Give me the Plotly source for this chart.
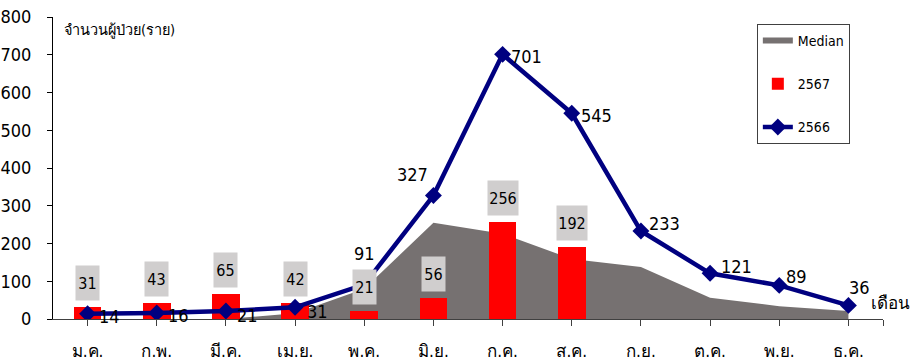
import plotly.graph_objects as go

# Months (Thai abbreviations)
months = ["ม.ค.", "ก.พ.", "มี.ค.", "เม.ย.", "พ.ค.", "มิ.ย.",
          "ก.ค.", "ส.ค.", "ก.ย.", "ต.ค.", "พ.ย.", "ธ.ค."]

# Median of previous years
median_vals = [0, 0, 0, 15, 80, 255, 226, 159, 138, 56, 34, 21]

# Cases in 2567 (reported months only)
cases_2567 = [31, 43, 65, 42, 21, 56, 256, 192]

# Cases in 2566
cases_2566 = [14, 16, 21, 31, 91, 327, 701, 545, 233, 121, 89, 36]

y_ticks = [0, 100, 200, 300, 400, 500, 600, 700, 800]

FONT = "Liberation Sans Narrow, DejaVu Sans Condensed, Tahoma, sans-serif"
NAVY = "#000080"
Y_RANGE = [0, 800]

x_all = list(range(len(months)))
x_2567 = list(range(len(cases_2567)))

fig = go.Figure()

# median area sits on the base axes so the bars and line (on y2) draw above it
fig.add_trace(go.Scatter(
    x=x_all, y=median_vals, name="Median", mode="none",
    fill="tozeroy", fillcolor="#767171", legendgroup="a",
    hoverinfo="skip",
))

fig.add_trace(go.Bar(
    x=x_2567, y=cases_2567, name="2567", width=0.4, yaxis="y2",
    marker=dict(color="#FF0000", line=dict(width=0)), legendgroup="b",
))

fig.add_trace(go.Scatter(
    x=x_all, y=cases_2566, name="2566", mode="lines+markers", yaxis="y2",
    line=dict(color=NAVY, width=4.5),
    marker=dict(symbol="diamond", size=13, color=NAVY),
    legendgroup="c",
))

# value boxes above the 2567 bars
for xi, v in zip(x_2567, cases_2567):
    txt = str(v)
    fig.add_annotation(
        x=xi, y=v, text=txt, showarrow=False, xanchor="center", yanchor="middle",
        yshift=24, width=23 if len(txt) < 3 else 30, height=34,
        bgcolor="#D0CECE", borderpad=0,
        font=dict(family=FONT, size=16, color="black"),
    )

# value labels beside the 2566 points (pixel offsets)
label_offsets = [(22, -3), (22, -3), (22, -4), (22, -4), (0, 31), (-21, 21),
                 (24, -2), (25, -2), (24, 8), (26, 7), (17, 9), (11, 18)]
for xi, v, (dx, dy) in zip(x_all, cases_2566, label_offsets):
    fig.add_annotation(
        x=xi, y=v, text=str(v), showarrow=False, xanchor="center", yanchor="middle",
        xshift=dx, yshift=dy, font=dict(family=FONT, size=18, color="black"),
    )

fig.add_annotation(
    xref="paper", yref="paper", x=0.011, y=0.955, xanchor="left", yanchor="middle",
    text="จำนวนผู้ป่วย(ราย)", showarrow=False,
    font=dict(family=FONT, size=14.5, color="black"),
)
fig.add_annotation(
    xref="paper", yref="paper", x=1.035, y=0.053, xanchor="right", yanchor="middle",
    text="เดือน", showarrow=False,
    font=dict(family=FONT, size=17, color="black"),
)

fig.update_layout(
    width=914, height=364,
    margin=dict(l=53, r=31, t=17, b=45, autoexpand=False),
    paper_bgcolor="white", plot_bgcolor="white",
    showlegend=True,
    bargap=0,
    legend=dict(
        x=0.848, y=0.977, xanchor="left", yanchor="top",
        bordercolor="#404040", borderwidth=1, bgcolor="white",
        font=dict(family=FONT, size=14, color="black"),
        tracegroupgap=22, traceorder="grouped", itemwidth=30,
    ),
    xaxis=dict(
        range=[-0.5, 11.5], tickmode="array", tickvals=x_all + [11.5],
        ticktext=months + [""], showgrid=False, zeroline=False,
        showline=True, linecolor="#404040", linewidth=1,
        ticks="outside", ticklen=6, tickcolor="#404040",
        ticklabelstandoff=11, automargin=False,
        tickfont=dict(family=FONT, size=17, color="black"),
    ),
    yaxis=dict(
        range=Y_RANGE, tickvals=y_ticks, showgrid=False, zeroline=False,
        showline=True, linecolor="black", linewidth=1,
        ticks="outside", ticklen=5, tickcolor="black",
        ticklabelstandoff=12, automargin=False,
        tickfont=dict(family=FONT, size=18, color="black"),
    ),
    yaxis2=dict(
        range=Y_RANGE, overlaying="y", visible=False, automargin=False,
    ),
)

fig.write_html("out.html")
